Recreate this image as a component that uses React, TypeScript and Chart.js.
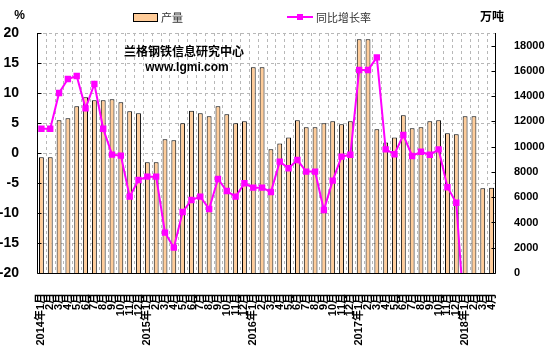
import React, { useEffect, useRef } from 'react';
import { Chart, registerables } from 'chart.js';

Chart.register(...registerables);

const categories: string[] = [
  '2014年1月', '2月', '3月', '4月', '5月', '6月', '7月', '8月', '9月', '10月', '11月', '12月',
  '2015年1月', '2月', '3月', '4月', '5月', '6月', '7月', '8月', '9月', '10月', '11月', '12月',
  '2016年1月', '2月', '3月', '4月', '5月', '6月', '7月', '8月', '9月', '10月', '11月', '12月',
  '2017年1月', '2月', '3月', '4月', '5月', '6月', '7月', '8月', '9月', '10月', '11月', '12月',
  '2018年1月', '2月', '3月', '4月',
];

// 产量 (万吨, right axis)
const production: number[] = [
  9170, 9170, 12090, 12245, 13200, 13910, 13670, 13670, 13750, 13510, 12800, 12650,
  8760, 8760, 10580, 10500, 11850, 12850, 12640, 12400, 13200, 12560, 11850, 12010,
  16280, 16280, 9790, 10260, 10735, 12090, 11530, 11530, 11850, 12010, 11770, 12010,
  18500, 18500, 11380, 10330, 10735, 12480, 11450, 11530, 12010, 12090, 11060, 10980,
  12400, 12400, 6700, 6750,
];

// 同比增长率 (%, left axis)
const yoyGrowth: (number | null)[] = [
  4.05, 4.05, 10.0, 12.33, 12.83, 7.44, 11.5, 4.05, -0.28, -0.44, -7.28, -4.5,
  -3.94, -3.94, -13.28, -15.78, -9.83, -7.83, -7.28, -9.33, -4.33, -6.33, -7.28, -5.05,
  -5.78, -5.78, -6.5, -1.44, -2.55, -1.17, -3.1, -3.1, -9.5, -4.6, -0.6, -0.3,
  13.83, 13.83, 15.94, 0.6, -0.2, 3.0, -0.5, 0.2, -0.3, 0.6, -5.7, -8.3,
  -29, -29, null, null,
];

const leftTicks: number[] = [20, 15, 10, 5, 0, -5, -10, -15, -20];
const rightTicks: number[] = [0, 2000, 4000, 6000, 8000, 10000, 12000, 14000, 16000, 18000];

const BAR_COLOR = '#FFCC99';
const LINE_COLOR = '#FF00FF';
const NARROW = "'Liberation Sans Narrow', 'Arial Narrow', 'Liberation Sans', Arial, sans-serif";
const CJK = "'Liberation Sans', 'Noto Sans CJK SC', sans-serif";

const decorPlugin = {
  id: 'decor',
  beforeDatasetsDraw(chart: any) {
    const { ctx, chartArea, scales } = chart;
    const { left, right, top, bottom } = chartArea;
    ctx.save();
    ctx.strokeStyle = '#B8B8B8';
    ctx.lineWidth = 1;
    ctx.setLineDash([3, 3]);
    ctx.beginPath();
    for (const v of leftTicks) {
      if (v === -20) continue;
      const y = Math.round(scales.y.getPixelForValue(v)) + 0.5;
      ctx.moveTo(left, y);
      ctx.lineTo(right, y);
    }
    const n = categories.length;
    for (let i = 1; i < n; i++) {
      const x = Math.round((scales.x.getPixelForValue(i - 1) + scales.x.getPixelForValue(i)) / 2) + 0.5;
      ctx.moveTo(x, top);
      ctx.lineTo(x, bottom);
    }
    ctx.stroke();
    ctx.restore();
  },
  afterDatasetsDraw(chart: any) {
    const { ctx, chartArea, scales } = chart;
    const { left, right, top, bottom } = chartArea;
    ctx.save();
    ctx.strokeStyle = '#000';
    ctx.lineWidth = 1;
    ctx.setLineDash([]);
    ctx.beginPath();
    const lx = Math.round(left) + 0.5;
    const rx = Math.round(right) - 0.5;
    const by = Math.round(bottom) + 0.5;
    ctx.moveTo(lx, top);
    ctx.lineTo(lx, by);
    ctx.moveTo(rx, top);
    ctx.lineTo(rx, by);
    ctx.moveTo(lx, by);
    ctx.lineTo(rx, by);
    for (const v of leftTicks) {
      const y = Math.round(scales.y.getPixelForValue(v)) + 0.5;
      ctx.moveTo(lx, y);
      ctx.lineTo(lx + 4, y);
    }
    for (const v of rightTicks) {
      const y = Math.round(scales.y1.getPixelForValue(v)) + 0.5;
      ctx.moveTo(rx, y);
      ctx.lineTo(rx - 4, y);
    }
    ctx.stroke();
    ctx.restore();
  },
  afterDraw(chart: any) {
    const { ctx } = chart;
    ctx.save();
    ctx.setLineDash([]);
    // legend
    ctx.fillStyle = BAR_COLOR;
    ctx.strokeStyle = '#000';
    ctx.lineWidth = 1;
    ctx.fillRect(133.5, 13.5, 24, 8);
    ctx.strokeRect(133.5, 13.5, 24, 8);
    ctx.fillStyle = '#333';
    ctx.font = "11px 'Noto Sans CJK SC', sans-serif";
    ctx.textBaseline = 'middle';
    ctx.textAlign = 'left';
    ctx.fillText('产量', 161, 17.5);
    ctx.strokeStyle = LINE_COLOR;
    ctx.lineWidth = 2;
    ctx.beginPath();
    ctx.moveTo(287, 17);
    ctx.lineTo(313, 17);
    ctx.stroke();
    ctx.fillStyle = LINE_COLOR;
    ctx.fillRect(297, 14, 6, 6);
    ctx.fillStyle = '#333';
    ctx.fillText('同比增长率', 316, 17.5);
    // axis titles
    ctx.fillStyle = '#000';
    ctx.textAlign = 'center';
    ctx.font = "bold 12px 'Liberation Sans', sans-serif";
    ctx.fillText('%', 19.5, 16);
    ctx.font = "bold 12px 'Noto Sans CJK SC', sans-serif";
    ctx.fillText('万吨', 492, 16);
    // watermark
    ctx.font = "bold 12px 'Noto Sans CJK SC', sans-serif";
    ctx.fillText('兰格钢铁信息研究中心', 184, 51);
    ctx.font = "bold 12px 'Liberation Sans', sans-serif";
    ctx.fillText('www.lgmi.com', 187, 67.5);
    ctx.restore();
  },
};

export default function App() {
  const canvasRef = useRef<HTMLCanvasElement | null>(null);

  useEffect(() => {
    if (!canvasRef.current) return;
    const chart = new Chart(canvasRef.current, {
      type: 'bar',
      data: {
        labels: categories,
        datasets: [
          {
            type: 'line',
            label: '同比增长率',
            data: yoyGrowth,
            yAxisID: 'y',
            borderColor: LINE_COLOR,
            backgroundColor: LINE_COLOR,
            borderWidth: 2,
            pointStyle: 'rect',
            pointRadius: 4.5,
            pointBorderWidth: 0,
            pointBackgroundColor: LINE_COLOR,
            tension: 0,
            order: 1,
          } as any,
          {
            type: 'bar',
            label: '产量',
            data: production,
            yAxisID: 'y1',
            backgroundColor: BAR_COLOR,
            borderColor: '#000',
            borderWidth: 1,
            categoryPercentage: 1,
            barPercentage: 0.55,
            order: 2,
          } as any,
        ],
      },
      options: {
        responsive: false,
        maintainAspectRatio: false,
        devicePixelRatio: 1,
        animation: false,
        layout: { padding: { top: 33, left: 0, right: 0, bottom: 0 } },
        plugins: {
          legend: { display: false },
          tooltip: { enabled: false },
        },
        scales: {
          x: {
            type: 'category',
            offset: true,
            grid: { display: false },
            border: { display: false },
            ticks: {
              autoSkip: false,
              minRotation: 90,
              maxRotation: 90,
              padding: 12,
              color: '#000',
              font: { family: CJK, size: 11, weight: 'bold' },
            },
            afterFit: (s: any) => { s.height = 79; },
          },
          y: {
            type: 'linear',
            position: 'left',
            min: -20,
            max: 20,
            grid: { display: false },
            border: { display: false },
            ticks: {
              color: '#000',
              padding: 10,
              font: { family: NARROW, size: 14, weight: 'bold' },
              callback: (v: any) => String(v),
            },
            afterBuildTicks: (axis: any) => { axis.ticks = leftTicks.map((v) => ({ value: v })); },
            afterFit: (s: any) => { s.width = 37; },
          },
          y1: {
            type: 'linear',
            position: 'right',
            min: 0,
            max: 19000,
            grid: { display: false },
            border: { display: false },
            ticks: {
              color: '#000',
              padding: 10,
              font: { family: NARROW, size: 11, weight: 'bold' },
              callback: (v: any) => String(v),
            },
            afterBuildTicks: (axis: any) => { axis.ticks = rightTicks.map((v) => ({ value: v })); },
            afterFit: (s: any) => { s.width = 53; },
          },
        },
      },
      plugins: [decorPlugin],
    });
    return () => chart.destroy();
  }, []);

  return (
    <div style={{ position: 'absolute', left: 0, top: 0, width: 549, height: 352, background: '#fff' }}>
      <canvas ref={canvasRef} width={549} height={352} style={{ width: 549, height: 352, display: 'block' }} />
    </div>
  );
}
